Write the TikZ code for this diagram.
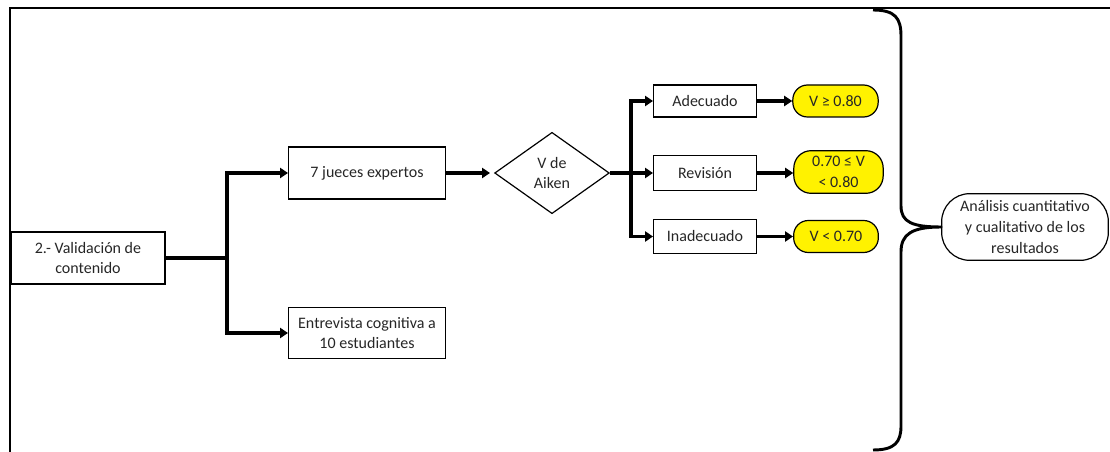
\documentclass[tikz,border=0pt]{standalone}
\usepackage{fontspec}
\setmainfont{Carlito}
\usetikzlibrary{shapes.geometric,arrows.meta}
\definecolor{txt}{HTML}{262626}
\begin{document}
\begin{tikzpicture}[x=0.75pt,y=-0.75pt,
  font=\fontsize{12}{15.5}\selectfont,
  every node/.style={text=txt, align=center, inner sep=1pt},
  box/.style={draw, line width=0.9pt, rectangle},
  ybox/.style={draw, line width=0.9pt, fill=yellow, rounded corners=11pt},
  conn/.style={line width=2.4pt},
  arr/.style={line width=2.4pt, -{Triangle[length=6pt,width=7.5pt]}},
]
\useasboundingbox (0,0) rectangle (1110,452);
% frame
\draw[line width=1.6pt] (10,452) -- (10,8) -- (1110,8);

% nodes
\node[box, minimum width=115.5pt, minimum height=39pt] (val) at (88,258) {2.- Validación de\\contenido};
\node[box, minimum width=117.5pt, minimum height=39pt] (jue) at (367,173) {7 jueces expertos};
\node[box, minimum width=117.5pt, minimum height=38pt] (ent) at (367,333) {Entrevista cognitiva a\\10 estudiantes};
\node[draw, line width=0.9pt, diamond, inner sep=0pt, minimum width=86pt, minimum height=61pt] (aik) at (552,173) {V de\\Aiken};
\node[box, minimum width=77pt, minimum height=24pt] (ade) at (705,101) {Adecuado};
\node[box, minimum width=77pt, minimum height=26pt] (rev) at (705,173) {Revisión};
\node[box, minimum width=77pt, minimum height=25.5pt] (ina) at (705,236.5) {Inadecuado};
\node[ybox, minimum width=64pt, minimum height=24pt] (y1) at (835.5,101) {V ≥ 0.80};
\node[ybox, minimum width=67pt, minimum height=32pt, rounded corners=13pt] (y2) at (838.5,172) {0.70 ≤ V\\< 0.80};
\node[ybox, minimum width=63.5pt, minimum height=24pt] (y3) at (836,236.5) {V < 0.70};
\node[draw, line width=0.9pt, rounded corners=21pt, minimum width=125pt, minimum height=50pt] (ana) at (1025,227) {Análisis cuantitativo\\y cualitativo de los\\resultados};

% connectors
\coordinate (j1) at (227,258);
\draw[line width=3pt] (val.east) -- (j1);
\draw[arr] (j1) |- (jue.west);
\draw[arr] (j1) |- (ent.west);
\draw[arr, shorten >=3pt] (jue.east) -- (aik.west);
\coordinate (j2) at (631,173);
\draw[conn] (aik.east) -- (j2);
\draw[arr] (j2) |- (ade.west);
\draw[arr] (j2) -- (rev.west);
\draw[arr] (j2) |- (ina.west);
\draw[arr] (ade.east) -- (ade.east -| y1.west);
\draw[arr] (rev.east) -- (rev.east -| y2.west);
\draw[arr] (ina.east) -- (ina.east -| y3.west);

% brace
\draw[line width=2.2pt, line join=round]
  (873,10) .. controls (895,10) and (901,18) .. (901,36)
  -- (901,206) .. controls (901,222) and (912,227) .. (ana.west)
  .. controls (912,227) and (901,234) .. (901,252)
  -- (901,426) .. controls (901,442) and (895,450) .. (873,450);
\end{tikzpicture}
\end{document}
